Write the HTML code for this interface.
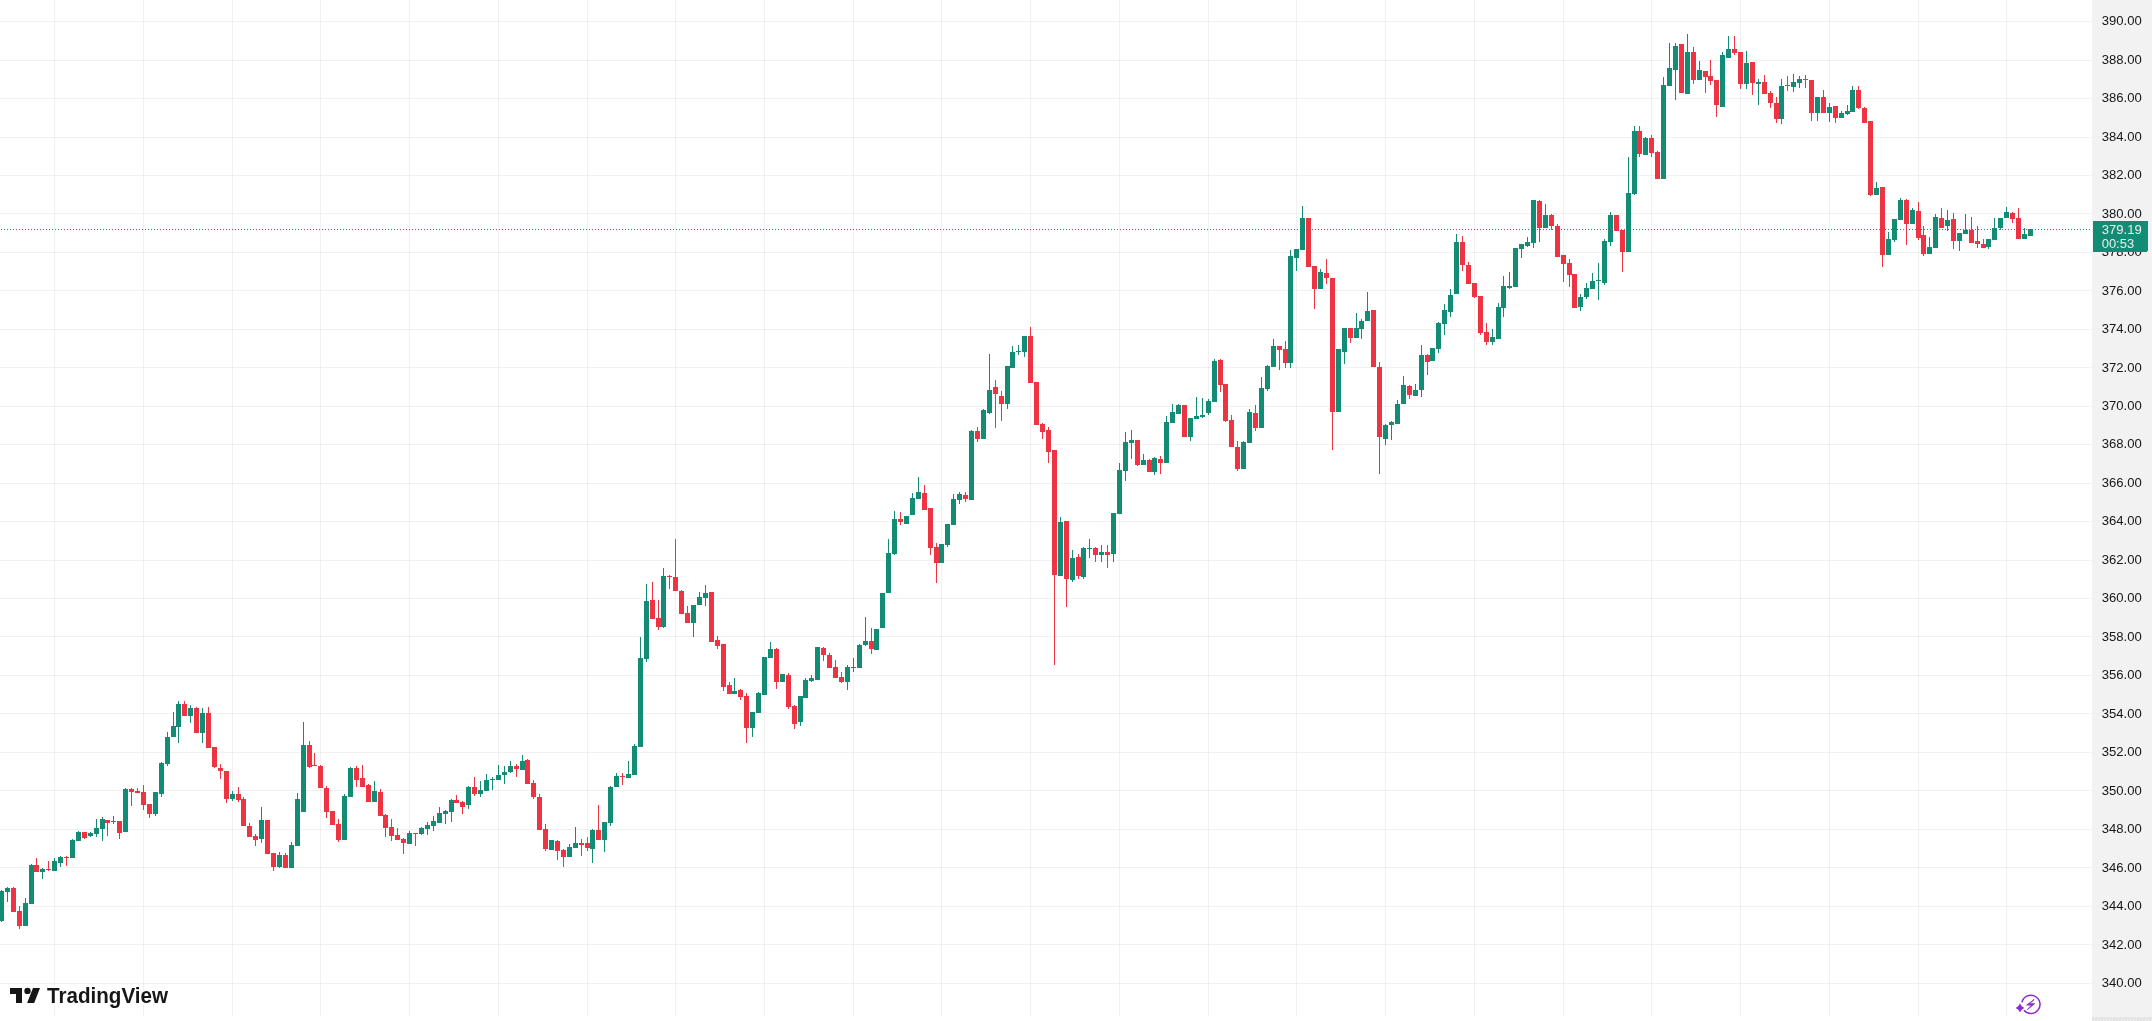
<!DOCTYPE html>
<html><head><meta charset="utf-8"><title>Chart</title>
<style>
html,body{margin:0;padding:0;background:#fff;}
body{width:2152px;height:1021px;overflow:hidden;position:relative;}
svg{position:absolute;left:0;top:0;}
.ov{will-change:transform;}
.ax text{font-family:"Liberation Sans",Arial,sans-serif;font-size:12.3px;fill:#161616;}
.lbl text{font-family:"Liberation Sans",Arial,sans-serif;font-size:12.3px;fill:#ededed;}
.logo text{font-family:"Liberation Sans",Arial,sans-serif;font-weight:bold;font-size:21.4px;fill:#161616;}
</style></head>
<body>
<svg width="2152" height="1021" viewBox="0 0 2152 1021" shape-rendering="crispEdges">
<rect x="0" y="0" width="2152" height="1021" fill="#ffffff"/>
<rect x="2092" y="0" width="60" height="1017" fill="#f2f2f2"/>
<defs><pattern id="hp" x="0" y="1017" width="3" height="3" patternUnits="userSpaceOnUse"><rect width="3" height="3" fill="#e0e0e0"/><rect x="0" y="0" width="1" height="1" fill="#f2f2f2"/><rect x="1" y="1" width="1" height="1" fill="#f2f2f2"/><rect x="2" y="2" width="1" height="1" fill="#f2f2f2"/></pattern></defs>
<rect x="2092" y="1017" width="60" height="4" fill="url(#hp)"/>
<g fill="rgba(42,46,57,0.066)"><rect x="54" y="0" width="1" height="1017"/><rect x="143" y="0" width="1" height="1017"/><rect x="232" y="0" width="1" height="1017"/><rect x="320" y="0" width="1" height="1017"/><rect x="409" y="0" width="1" height="1017"/><rect x="498" y="0" width="1" height="1017"/><rect x="587" y="0" width="1" height="1017"/><rect x="675" y="0" width="1" height="1017"/><rect x="764" y="0" width="1" height="1017"/><rect x="853" y="0" width="1" height="1017"/><rect x="941" y="0" width="1" height="1017"/><rect x="1030" y="0" width="1" height="1017"/><rect x="1119" y="0" width="1" height="1017"/><rect x="1208" y="0" width="1" height="1017"/><rect x="1296" y="0" width="1" height="1017"/><rect x="1385" y="0" width="1" height="1017"/><rect x="1474" y="0" width="1" height="1017"/><rect x="1563" y="0" width="1" height="1017"/><rect x="1651" y="0" width="1" height="1017"/><rect x="1740" y="0" width="1" height="1017"/><rect x="1829" y="0" width="1" height="1017"/><rect x="1918" y="0" width="1" height="1017"/><rect x="2006" y="0" width="1" height="1017"/><rect x="0" y="21" width="2092" height="1"/><rect x="0" y="60" width="2092" height="1"/><rect x="0" y="98" width="2092" height="1"/><rect x="0" y="137" width="2092" height="1"/><rect x="0" y="175" width="2092" height="1"/><rect x="0" y="213" width="2092" height="1"/><rect x="0" y="252" width="2092" height="1"/><rect x="0" y="290" width="2092" height="1"/><rect x="0" y="329" width="2092" height="1"/><rect x="0" y="367" width="2092" height="1"/><rect x="0" y="406" width="2092" height="1"/><rect x="0" y="444" width="2092" height="1"/><rect x="0" y="483" width="2092" height="1"/><rect x="0" y="521" width="2092" height="1"/><rect x="0" y="560" width="2092" height="1"/><rect x="0" y="598" width="2092" height="1"/><rect x="0" y="636" width="2092" height="1"/><rect x="0" y="675" width="2092" height="1"/><rect x="0" y="713" width="2092" height="1"/><rect x="0" y="752" width="2092" height="1"/><rect x="0" y="790" width="2092" height="1"/><rect x="0" y="829" width="2092" height="1"/><rect x="0" y="867" width="2092" height="1"/><rect x="0" y="906" width="2092" height="1"/><rect x="0" y="944" width="2092" height="1"/><rect x="0" y="983" width="2092" height="1"/></g>
<g fill="#138C75"><rect x="1" y="890" width="1" height="32"/><rect x="-1" y="891" width="5" height="30"/><rect x="7" y="887" width="1" height="15"/><rect x="5" y="888" width="5" height="4"/><rect x="25" y="898" width="1" height="28"/><rect x="23" y="903" width="5" height="23"/><rect x="31" y="864" width="1" height="40"/><rect x="29" y="865" width="5" height="39"/><rect x="42" y="868" width="1" height="11"/><rect x="40" y="869" width="5" height="3"/><rect x="54" y="858" width="1" height="13"/><rect x="52" y="861" width="5" height="10"/><rect x="60" y="856" width="1" height="11"/><rect x="58" y="857" width="5" height="6"/><rect x="72" y="839" width="1" height="19"/><rect x="70" y="840" width="5" height="18"/><rect x="78" y="831" width="1" height="10"/><rect x="76" y="832" width="5" height="9"/><rect x="90" y="832" width="1" height="5"/><rect x="88" y="833" width="5" height="3"/><rect x="96" y="819" width="1" height="18"/><rect x="94" y="828" width="5" height="6"/><rect x="102" y="817" width="1" height="24"/><rect x="100" y="819" width="5" height="10"/><rect x="113" y="816" width="1" height="8"/><rect x="111" y="821" width="5" height="1"/><rect x="125" y="788" width="1" height="44"/><rect x="123" y="789" width="5" height="43"/><rect x="155" y="792" width="1" height="24"/><rect x="153" y="792" width="5" height="22"/><rect x="161" y="762" width="1" height="35"/><rect x="159" y="763" width="5" height="31"/><rect x="167" y="732" width="1" height="34"/><rect x="165" y="737" width="5" height="27"/><rect x="173" y="712" width="1" height="25"/><rect x="171" y="726" width="5" height="11"/><rect x="178" y="701" width="1" height="42"/><rect x="176" y="704" width="5" height="23"/><rect x="190" y="705" width="1" height="18"/><rect x="188" y="708" width="5" height="8"/><rect x="202" y="708" width="1" height="35"/><rect x="200" y="713" width="5" height="20"/><rect x="232" y="791" width="1" height="10"/><rect x="230" y="794" width="5" height="5"/><rect x="261" y="807" width="1" height="36"/><rect x="259" y="820" width="5" height="19"/><rect x="279" y="852" width="1" height="16"/><rect x="277" y="855" width="5" height="12"/><rect x="291" y="842" width="1" height="26"/><rect x="289" y="845" width="5" height="23"/><rect x="297" y="793" width="1" height="53"/><rect x="295" y="799" width="5" height="47"/><rect x="303" y="722" width="1" height="90"/><rect x="301" y="745" width="5" height="67"/><rect x="344" y="794" width="1" height="46"/><rect x="342" y="796" width="5" height="44"/><rect x="350" y="767" width="1" height="30"/><rect x="348" y="768" width="5" height="29"/><rect x="374" y="781" width="1" height="21"/><rect x="372" y="791" width="5" height="11"/><rect x="409" y="831" width="1" height="13"/><rect x="407" y="833" width="5" height="11"/><rect x="421" y="827" width="1" height="8"/><rect x="419" y="828" width="5" height="6"/><rect x="427" y="822" width="1" height="13"/><rect x="425" y="825" width="5" height="4"/><rect x="433" y="816" width="1" height="15"/><rect x="431" y="821" width="5" height="5"/><rect x="439" y="807" width="1" height="16"/><rect x="437" y="813" width="5" height="10"/><rect x="445" y="810" width="1" height="14"/><rect x="443" y="811" width="5" height="3"/><rect x="451" y="799" width="1" height="23"/><rect x="449" y="800" width="5" height="12"/><rect x="468" y="786" width="1" height="23"/><rect x="466" y="787" width="5" height="18"/><rect x="480" y="781" width="1" height="16"/><rect x="478" y="790" width="5" height="4"/><rect x="486" y="774" width="1" height="17"/><rect x="484" y="780" width="5" height="11"/><rect x="492" y="777" width="1" height="13"/><rect x="490" y="779" width="5" height="1"/><rect x="498" y="765" width="1" height="15"/><rect x="496" y="775" width="5" height="5"/><rect x="504" y="766" width="1" height="18"/><rect x="502" y="772" width="5" height="3"/><rect x="510" y="761" width="1" height="12"/><rect x="508" y="766" width="5" height="6"/><rect x="522" y="755" width="1" height="15"/><rect x="520" y="761" width="5" height="9"/><rect x="551" y="840" width="1" height="10"/><rect x="549" y="840" width="5" height="10"/><rect x="569" y="844" width="1" height="13"/><rect x="567" y="847" width="5" height="10"/><rect x="575" y="827" width="1" height="21"/><rect x="573" y="843" width="5" height="5"/><rect x="592" y="829" width="1" height="34"/><rect x="590" y="830" width="5" height="19"/><rect x="604" y="822" width="1" height="30"/><rect x="602" y="822" width="5" height="18"/><rect x="610" y="786" width="1" height="40"/><rect x="608" y="787" width="5" height="36"/><rect x="616" y="773" width="1" height="14"/><rect x="614" y="776" width="5" height="11"/><rect x="628" y="761" width="1" height="17"/><rect x="626" y="774" width="5" height="4"/><rect x="634" y="744" width="1" height="31"/><rect x="632" y="746" width="5" height="29"/><rect x="640" y="637" width="1" height="110"/><rect x="638" y="658" width="5" height="89"/><rect x="646" y="584" width="1" height="78"/><rect x="644" y="601" width="5" height="58"/><rect x="663" y="568" width="1" height="60"/><rect x="661" y="576" width="5" height="51"/><rect x="693" y="605" width="1" height="32"/><rect x="691" y="605" width="5" height="18"/><rect x="699" y="592" width="1" height="13"/><rect x="697" y="597" width="5" height="8"/><rect x="705" y="585" width="1" height="21"/><rect x="703" y="593" width="5" height="5"/><rect x="734" y="678" width="1" height="16"/><rect x="732" y="691" width="5" height="3"/><rect x="752" y="712" width="1" height="25"/><rect x="750" y="712" width="5" height="16"/><rect x="758" y="692" width="1" height="21"/><rect x="756" y="693" width="5" height="20"/><rect x="764" y="657" width="1" height="38"/><rect x="762" y="657" width="5" height="38"/><rect x="770" y="642" width="1" height="16"/><rect x="768" y="649" width="5" height="9"/><rect x="782" y="674" width="1" height="8"/><rect x="780" y="674" width="5" height="8"/><rect x="800" y="696" width="1" height="30"/><rect x="798" y="696" width="5" height="26"/><rect x="805" y="678" width="1" height="20"/><rect x="803" y="680" width="5" height="18"/><rect x="811" y="675" width="1" height="7"/><rect x="809" y="678" width="5" height="3"/><rect x="817" y="647" width="1" height="33"/><rect x="815" y="647" width="5" height="33"/><rect x="847" y="665" width="1" height="25"/><rect x="845" y="667" width="5" height="15"/><rect x="853" y="658" width="1" height="14"/><rect x="851" y="667" width="5" height="1"/><rect x="859" y="644" width="1" height="24"/><rect x="857" y="645" width="5" height="23"/><rect x="865" y="617" width="1" height="29"/><rect x="863" y="641" width="5" height="4"/><rect x="876" y="629" width="1" height="21"/><rect x="874" y="629" width="5" height="21"/><rect x="882" y="593" width="1" height="35"/><rect x="880" y="593" width="5" height="35"/><rect x="888" y="539" width="1" height="54"/><rect x="886" y="553" width="5" height="40"/><rect x="894" y="511" width="1" height="44"/><rect x="892" y="519" width="5" height="35"/><rect x="906" y="516" width="1" height="8"/><rect x="904" y="516" width="5" height="8"/><rect x="912" y="493" width="1" height="22"/><rect x="910" y="498" width="5" height="17"/><rect x="918" y="477" width="1" height="22"/><rect x="916" y="492" width="5" height="7"/><rect x="941" y="544" width="1" height="19"/><rect x="939" y="544" width="5" height="19"/><rect x="947" y="524" width="1" height="23"/><rect x="945" y="524" width="5" height="21"/><rect x="953" y="494" width="1" height="31"/><rect x="951" y="499" width="5" height="26"/><rect x="959" y="492" width="1" height="12"/><rect x="957" y="494" width="5" height="6"/><rect x="971" y="430" width="1" height="70"/><rect x="969" y="431" width="5" height="69"/><rect x="983" y="409" width="1" height="30"/><rect x="981" y="410" width="5" height="29"/><rect x="989" y="354" width="1" height="60"/><rect x="987" y="390" width="5" height="23"/><rect x="1007" y="366" width="1" height="43"/><rect x="1005" y="366" width="5" height="38"/><rect x="1012" y="346" width="1" height="22"/><rect x="1010" y="352" width="5" height="16"/><rect x="1018" y="345" width="1" height="10"/><rect x="1016" y="351" width="5" height="1"/><rect x="1024" y="336" width="1" height="21"/><rect x="1022" y="336" width="5" height="16"/><rect x="1060" y="517" width="1" height="59"/><rect x="1058" y="522" width="5" height="54"/><rect x="1072" y="550" width="1" height="32"/><rect x="1070" y="558" width="5" height="22"/><rect x="1083" y="547" width="1" height="32"/><rect x="1081" y="548" width="5" height="29"/><rect x="1089" y="539" width="1" height="19"/><rect x="1087" y="548" width="5" height="1"/><rect x="1101" y="545" width="1" height="17"/><rect x="1099" y="552" width="5" height="3"/><rect x="1113" y="513" width="1" height="49"/><rect x="1111" y="513" width="5" height="41"/><rect x="1119" y="463" width="1" height="51"/><rect x="1117" y="470" width="5" height="44"/><rect x="1125" y="432" width="1" height="49"/><rect x="1123" y="442" width="5" height="29"/><rect x="1131" y="430" width="1" height="29"/><rect x="1129" y="440" width="5" height="3"/><rect x="1143" y="454" width="1" height="11"/><rect x="1141" y="460" width="5" height="5"/><rect x="1154" y="457" width="1" height="18"/><rect x="1152" y="458" width="5" height="14"/><rect x="1166" y="416" width="1" height="47"/><rect x="1164" y="422" width="5" height="41"/><rect x="1172" y="404" width="1" height="19"/><rect x="1170" y="412" width="5" height="11"/><rect x="1178" y="404" width="1" height="10"/><rect x="1176" y="405" width="5" height="9"/><rect x="1190" y="418" width="1" height="23"/><rect x="1188" y="418" width="5" height="19"/><rect x="1196" y="397" width="1" height="22"/><rect x="1194" y="416" width="5" height="3"/><rect x="1202" y="398" width="1" height="20"/><rect x="1200" y="415" width="5" height="2"/><rect x="1208" y="399" width="1" height="16"/><rect x="1206" y="401" width="5" height="12"/><rect x="1214" y="359" width="1" height="43"/><rect x="1212" y="361" width="5" height="41"/><rect x="1243" y="441" width="1" height="28"/><rect x="1241" y="442" width="5" height="27"/><rect x="1249" y="409" width="1" height="34"/><rect x="1247" y="412" width="5" height="31"/><rect x="1261" y="377" width="1" height="51"/><rect x="1259" y="388" width="5" height="40"/><rect x="1267" y="365" width="1" height="26"/><rect x="1265" y="366" width="5" height="23"/><rect x="1273" y="339" width="1" height="28"/><rect x="1271" y="346" width="5" height="21"/><rect x="1290" y="250" width="1" height="118"/><rect x="1288" y="256" width="5" height="107"/><rect x="1296" y="249" width="1" height="22"/><rect x="1294" y="249" width="5" height="9"/><rect x="1302" y="206" width="1" height="44"/><rect x="1300" y="218" width="5" height="32"/><rect x="1320" y="269" width="1" height="20"/><rect x="1318" y="272" width="5" height="17"/><rect x="1338" y="349" width="1" height="63"/><rect x="1336" y="349" width="5" height="63"/><rect x="1344" y="328" width="1" height="36"/><rect x="1342" y="328" width="5" height="24"/><rect x="1356" y="313" width="1" height="25"/><rect x="1354" y="328" width="5" height="10"/><rect x="1361" y="319" width="1" height="20"/><rect x="1359" y="321" width="5" height="8"/><rect x="1367" y="292" width="1" height="29"/><rect x="1365" y="311" width="5" height="10"/><rect x="1385" y="424" width="1" height="21"/><rect x="1383" y="425" width="5" height="14"/><rect x="1391" y="421" width="1" height="19"/><rect x="1389" y="422" width="5" height="3"/><rect x="1397" y="400" width="1" height="24"/><rect x="1395" y="404" width="5" height="20"/><rect x="1403" y="376" width="1" height="28"/><rect x="1401" y="385" width="5" height="19"/><rect x="1415" y="384" width="1" height="12"/><rect x="1413" y="390" width="5" height="6"/><rect x="1421" y="345" width="1" height="52"/><rect x="1419" y="355" width="5" height="35"/><rect x="1432" y="348" width="1" height="13"/><rect x="1430" y="348" width="5" height="13"/><rect x="1438" y="322" width="1" height="31"/><rect x="1436" y="323" width="5" height="26"/><rect x="1444" y="304" width="1" height="31"/><rect x="1442" y="310" width="5" height="14"/><rect x="1450" y="289" width="1" height="28"/><rect x="1448" y="295" width="5" height="17"/><rect x="1456" y="234" width="1" height="60"/><rect x="1454" y="242" width="5" height="52"/><rect x="1492" y="329" width="1" height="16"/><rect x="1490" y="337" width="5" height="5"/><rect x="1498" y="303" width="1" height="36"/><rect x="1496" y="307" width="5" height="32"/><rect x="1503" y="276" width="1" height="41"/><rect x="1501" y="286" width="5" height="22"/><rect x="1509" y="272" width="1" height="17"/><rect x="1507" y="286" width="5" height="2"/><rect x="1515" y="248" width="1" height="39"/><rect x="1513" y="248" width="5" height="39"/><rect x="1521" y="244" width="1" height="14"/><rect x="1519" y="244" width="5" height="5"/><rect x="1527" y="237" width="1" height="10"/><rect x="1525" y="242" width="5" height="4"/><rect x="1533" y="200" width="1" height="48"/><rect x="1531" y="200" width="5" height="43"/><rect x="1545" y="204" width="1" height="24"/><rect x="1543" y="215" width="5" height="13"/><rect x="1580" y="294" width="1" height="17"/><rect x="1578" y="297" width="5" height="10"/><rect x="1586" y="283" width="1" height="16"/><rect x="1584" y="288" width="5" height="9"/><rect x="1592" y="273" width="1" height="16"/><rect x="1590" y="281" width="5" height="8"/><rect x="1598" y="263" width="1" height="37"/><rect x="1596" y="280" width="5" height="1"/><rect x="1604" y="239" width="1" height="46"/><rect x="1602" y="241" width="5" height="42"/><rect x="1610" y="212" width="1" height="34"/><rect x="1608" y="215" width="5" height="27"/><rect x="1628" y="157" width="1" height="95"/><rect x="1626" y="193" width="5" height="59"/><rect x="1634" y="126" width="1" height="69"/><rect x="1632" y="131" width="5" height="63"/><rect x="1645" y="137" width="1" height="18"/><rect x="1643" y="138" width="5" height="17"/><rect x="1663" y="77" width="1" height="102"/><rect x="1661" y="85" width="5" height="94"/><rect x="1669" y="43" width="1" height="43"/><rect x="1667" y="68" width="5" height="18"/><rect x="1675" y="43" width="1" height="57"/><rect x="1673" y="46" width="5" height="24"/><rect x="1687" y="34" width="1" height="60"/><rect x="1685" y="52" width="5" height="42"/><rect x="1699" y="61" width="1" height="19"/><rect x="1697" y="70" width="5" height="10"/><rect x="1722" y="52" width="1" height="55"/><rect x="1720" y="55" width="5" height="52"/><rect x="1728" y="36" width="1" height="22"/><rect x="1726" y="49" width="5" height="9"/><rect x="1746" y="51" width="1" height="38"/><rect x="1744" y="63" width="5" height="21"/><rect x="1758" y="79" width="1" height="26"/><rect x="1756" y="82" width="5" height="2"/><rect x="1781" y="79" width="1" height="45"/><rect x="1779" y="86" width="5" height="33"/><rect x="1793" y="74" width="1" height="18"/><rect x="1791" y="82" width="5" height="5"/><rect x="1799" y="76" width="1" height="12"/><rect x="1797" y="79" width="5" height="4"/><rect x="1817" y="97" width="1" height="24"/><rect x="1815" y="97" width="5" height="16"/><rect x="1829" y="103" width="1" height="19"/><rect x="1827" y="107" width="5" height="6"/><rect x="1841" y="111" width="1" height="7"/><rect x="1839" y="113" width="5" height="5"/><rect x="1847" y="105" width="1" height="10"/><rect x="1845" y="111" width="5" height="3"/><rect x="1852" y="86" width="1" height="26"/><rect x="1850" y="90" width="5" height="22"/><rect x="1876" y="182" width="1" height="13"/><rect x="1874" y="188" width="5" height="7"/><rect x="1888" y="232" width="1" height="23"/><rect x="1886" y="239" width="5" height="16"/><rect x="1894" y="219" width="1" height="23"/><rect x="1892" y="219" width="5" height="21"/><rect x="1900" y="198" width="1" height="22"/><rect x="1898" y="200" width="5" height="20"/><rect x="1912" y="208" width="1" height="16"/><rect x="1910" y="210" width="5" height="14"/><rect x="1929" y="237" width="1" height="17"/><rect x="1927" y="247" width="5" height="7"/><rect x="1935" y="214" width="1" height="34"/><rect x="1933" y="217" width="5" height="31"/><rect x="1947" y="210" width="1" height="21"/><rect x="1945" y="220" width="5" height="6"/><rect x="1959" y="233" width="1" height="18"/><rect x="1957" y="233" width="5" height="8"/><rect x="1965" y="214" width="1" height="20"/><rect x="1963" y="230" width="5" height="4"/><rect x="1988" y="239" width="1" height="10"/><rect x="1986" y="239" width="5" height="8"/><rect x="1994" y="218" width="1" height="22"/><rect x="1992" y="228" width="5" height="12"/><rect x="2000" y="218" width="1" height="12"/><rect x="1998" y="218" width="5" height="10"/><rect x="2006" y="207" width="1" height="11"/><rect x="2004" y="212" width="5" height="6"/><rect x="2024" y="228" width="1" height="11"/><rect x="2022" y="234" width="5" height="5"/><rect x="2030" y="229" width="1" height="7"/><rect x="2028" y="229" width="5" height="7"/></g>
<g fill="#EE3442"><rect x="13" y="887" width="1" height="25"/><rect x="11" y="888" width="5" height="24"/><rect x="19" y="906" width="1" height="23"/><rect x="17" y="911" width="5" height="15"/><rect x="36" y="858" width="1" height="14"/><rect x="34" y="865" width="5" height="7"/><rect x="48" y="861" width="1" height="10"/><rect x="46" y="869" width="5" height="1"/><rect x="66" y="856" width="1" height="10"/><rect x="64" y="857" width="5" height="1"/><rect x="84" y="832" width="1" height="7"/><rect x="82" y="832" width="5" height="6"/><rect x="107" y="820" width="1" height="16"/><rect x="105" y="820" width="5" height="3"/><rect x="119" y="821" width="1" height="18"/><rect x="117" y="821" width="5" height="12"/><rect x="131" y="788" width="1" height="18"/><rect x="129" y="789" width="5" height="3"/><rect x="137" y="788" width="1" height="5"/><rect x="135" y="791" width="5" height="2"/><rect x="143" y="785" width="1" height="25"/><rect x="141" y="792" width="5" height="13"/><rect x="149" y="804" width="1" height="14"/><rect x="147" y="804" width="5" height="10"/><rect x="184" y="701" width="1" height="15"/><rect x="182" y="704" width="5" height="12"/><rect x="196" y="707" width="1" height="26"/><rect x="194" y="708" width="5" height="25"/><rect x="208" y="707" width="1" height="41"/><rect x="206" y="713" width="5" height="35"/><rect x="214" y="747" width="1" height="21"/><rect x="212" y="747" width="5" height="20"/><rect x="220" y="764" width="1" height="15"/><rect x="218" y="768" width="5" height="3"/><rect x="226" y="771" width="1" height="32"/><rect x="224" y="771" width="5" height="28"/><rect x="238" y="787" width="1" height="15"/><rect x="236" y="794" width="5" height="6"/><rect x="243" y="797" width="1" height="29"/><rect x="241" y="799" width="5" height="27"/><rect x="249" y="823" width="1" height="14"/><rect x="247" y="826" width="5" height="11"/><rect x="255" y="834" width="1" height="12"/><rect x="253" y="836" width="5" height="4"/><rect x="267" y="820" width="1" height="34"/><rect x="265" y="820" width="5" height="34"/><rect x="273" y="853" width="1" height="18"/><rect x="271" y="853" width="5" height="14"/><rect x="285" y="853" width="1" height="15"/><rect x="283" y="855" width="5" height="13"/><rect x="309" y="741" width="1" height="27"/><rect x="307" y="745" width="5" height="22"/><rect x="314" y="753" width="1" height="13"/><rect x="312" y="765" width="5" height="1"/><rect x="320" y="765" width="1" height="23"/><rect x="318" y="766" width="5" height="22"/><rect x="326" y="786" width="1" height="32"/><rect x="324" y="788" width="5" height="24"/><rect x="332" y="811" width="1" height="14"/><rect x="330" y="811" width="5" height="14"/><rect x="338" y="819" width="1" height="23"/><rect x="336" y="824" width="5" height="16"/><rect x="356" y="766" width="1" height="21"/><rect x="354" y="768" width="5" height="12"/><rect x="362" y="765" width="1" height="22"/><rect x="360" y="778" width="5" height="9"/><rect x="368" y="784" width="1" height="18"/><rect x="366" y="785" width="5" height="17"/><rect x="380" y="789" width="1" height="27"/><rect x="378" y="792" width="5" height="24"/><rect x="385" y="814" width="1" height="23"/><rect x="383" y="815" width="5" height="13"/><rect x="391" y="819" width="1" height="22"/><rect x="389" y="827" width="5" height="9"/><rect x="397" y="828" width="1" height="12"/><rect x="395" y="835" width="5" height="5"/><rect x="403" y="838" width="1" height="16"/><rect x="401" y="839" width="5" height="4"/><rect x="415" y="833" width="1" height="13"/><rect x="413" y="833" width="5" height="1"/><rect x="456" y="795" width="1" height="8"/><rect x="454" y="800" width="5" height="3"/><rect x="462" y="801" width="1" height="13"/><rect x="460" y="802" width="5" height="5"/><rect x="474" y="777" width="1" height="19"/><rect x="472" y="787" width="5" height="7"/><rect x="516" y="764" width="1" height="13"/><rect x="514" y="766" width="5" height="3"/><rect x="527" y="759" width="1" height="25"/><rect x="525" y="760" width="5" height="24"/><rect x="533" y="780" width="1" height="19"/><rect x="531" y="783" width="5" height="14"/><rect x="539" y="794" width="1" height="36"/><rect x="537" y="797" width="5" height="33"/><rect x="545" y="824" width="1" height="27"/><rect x="543" y="829" width="5" height="20"/><rect x="557" y="840" width="1" height="20"/><rect x="555" y="841" width="5" height="10"/><rect x="563" y="849" width="1" height="18"/><rect x="561" y="850" width="5" height="7"/><rect x="581" y="839" width="1" height="17"/><rect x="579" y="843" width="5" height="2"/><rect x="587" y="837" width="1" height="14"/><rect x="585" y="843" width="5" height="5"/><rect x="598" y="805" width="1" height="35"/><rect x="596" y="830" width="5" height="10"/><rect x="622" y="773" width="1" height="12"/><rect x="620" y="776" width="5" height="1"/><rect x="652" y="582" width="1" height="37"/><rect x="650" y="600" width="5" height="19"/><rect x="658" y="600" width="1" height="30"/><rect x="656" y="618" width="5" height="9"/><rect x="669" y="575" width="1" height="14"/><rect x="667" y="576" width="5" height="1"/><rect x="675" y="539" width="1" height="52"/><rect x="673" y="577" width="5" height="14"/><rect x="681" y="590" width="1" height="24"/><rect x="679" y="591" width="5" height="23"/><rect x="687" y="606" width="1" height="17"/><rect x="685" y="613" width="5" height="10"/><rect x="711" y="592" width="1" height="50"/><rect x="709" y="592" width="5" height="50"/><rect x="717" y="636" width="1" height="13"/><rect x="715" y="640" width="5" height="6"/><rect x="723" y="644" width="1" height="47"/><rect x="721" y="644" width="5" height="43"/><rect x="729" y="682" width="1" height="12"/><rect x="727" y="685" width="5" height="9"/><rect x="740" y="689" width="1" height="11"/><rect x="738" y="690" width="5" height="7"/><rect x="746" y="693" width="1" height="50"/><rect x="744" y="696" width="5" height="32"/><rect x="776" y="648" width="1" height="41"/><rect x="774" y="649" width="5" height="33"/><rect x="788" y="673" width="1" height="36"/><rect x="786" y="675" width="5" height="32"/><rect x="794" y="705" width="1" height="24"/><rect x="792" y="706" width="5" height="18"/><rect x="823" y="647" width="1" height="14"/><rect x="821" y="648" width="5" height="7"/><rect x="829" y="653" width="1" height="15"/><rect x="827" y="655" width="5" height="13"/><rect x="835" y="660" width="1" height="18"/><rect x="833" y="667" width="5" height="11"/><rect x="841" y="672" width="1" height="11"/><rect x="839" y="677" width="5" height="5"/><rect x="871" y="628" width="1" height="26"/><rect x="869" y="641" width="5" height="8"/><rect x="900" y="512" width="1" height="13"/><rect x="898" y="519" width="5" height="3"/><rect x="924" y="485" width="1" height="25"/><rect x="922" y="493" width="5" height="17"/><rect x="930" y="508" width="1" height="47"/><rect x="928" y="508" width="5" height="40"/><rect x="936" y="543" width="1" height="40"/><rect x="934" y="547" width="5" height="16"/><rect x="965" y="492" width="1" height="10"/><rect x="963" y="495" width="5" height="4"/><rect x="977" y="427" width="1" height="15"/><rect x="975" y="431" width="5" height="8"/><rect x="995" y="380" width="1" height="48"/><rect x="993" y="387" width="5" height="7"/><rect x="1001" y="391" width="1" height="30"/><rect x="999" y="396" width="5" height="8"/><rect x="1030" y="327" width="1" height="56"/><rect x="1028" y="336" width="5" height="47"/><rect x="1036" y="382" width="1" height="43"/><rect x="1034" y="382" width="5" height="43"/><rect x="1042" y="423" width="1" height="16"/><rect x="1040" y="424" width="5" height="8"/><rect x="1048" y="427" width="1" height="36"/><rect x="1046" y="430" width="5" height="22"/><rect x="1054" y="450" width="1" height="215"/><rect x="1052" y="450" width="5" height="125"/><rect x="1066" y="521" width="1" height="86"/><rect x="1064" y="521" width="5" height="58"/><rect x="1078" y="554" width="1" height="25"/><rect x="1076" y="557" width="5" height="19"/><rect x="1095" y="547" width="1" height="15"/><rect x="1093" y="548" width="5" height="7"/><rect x="1107" y="545" width="1" height="23"/><rect x="1105" y="552" width="5" height="3"/><rect x="1137" y="440" width="1" height="26"/><rect x="1135" y="440" width="5" height="25"/><rect x="1149" y="459" width="1" height="13"/><rect x="1147" y="460" width="5" height="12"/><rect x="1160" y="456" width="1" height="18"/><rect x="1158" y="459" width="5" height="4"/><rect x="1184" y="405" width="1" height="32"/><rect x="1182" y="405" width="5" height="32"/><rect x="1220" y="359" width="1" height="33"/><rect x="1218" y="360" width="5" height="25"/><rect x="1225" y="384" width="1" height="38"/><rect x="1223" y="384" width="5" height="37"/><rect x="1231" y="415" width="1" height="32"/><rect x="1229" y="420" width="5" height="27"/><rect x="1237" y="441" width="1" height="30"/><rect x="1235" y="447" width="5" height="22"/><rect x="1255" y="405" width="1" height="26"/><rect x="1253" y="413" width="5" height="15"/><rect x="1279" y="346" width="1" height="24"/><rect x="1277" y="346" width="5" height="4"/><rect x="1285" y="341" width="1" height="27"/><rect x="1283" y="349" width="5" height="14"/><rect x="1308" y="218" width="1" height="49"/><rect x="1306" y="218" width="5" height="49"/><rect x="1314" y="266" width="1" height="43"/><rect x="1312" y="266" width="5" height="23"/><rect x="1326" y="259" width="1" height="25"/><rect x="1324" y="273" width="5" height="5"/><rect x="1332" y="278" width="1" height="172"/><rect x="1330" y="278" width="5" height="134"/><rect x="1350" y="328" width="1" height="15"/><rect x="1348" y="328" width="5" height="10"/><rect x="1373" y="310" width="1" height="57"/><rect x="1371" y="310" width="5" height="57"/><rect x="1379" y="362" width="1" height="112"/><rect x="1377" y="367" width="5" height="70"/><rect x="1409" y="385" width="1" height="14"/><rect x="1407" y="386" width="5" height="9"/><rect x="1427" y="354" width="1" height="21"/><rect x="1425" y="355" width="5" height="7"/><rect x="1462" y="236" width="1" height="35"/><rect x="1460" y="242" width="5" height="23"/><rect x="1468" y="262" width="1" height="22"/><rect x="1466" y="265" width="5" height="19"/><rect x="1474" y="283" width="1" height="15"/><rect x="1472" y="283" width="5" height="14"/><rect x="1480" y="296" width="1" height="39"/><rect x="1478" y="296" width="5" height="37"/><rect x="1486" y="323" width="1" height="22"/><rect x="1484" y="332" width="5" height="10"/><rect x="1539" y="200" width="1" height="42"/><rect x="1537" y="201" width="5" height="27"/><rect x="1551" y="214" width="1" height="16"/><rect x="1549" y="215" width="5" height="11"/><rect x="1557" y="224" width="1" height="33"/><rect x="1555" y="226" width="5" height="31"/><rect x="1563" y="255" width="1" height="27"/><rect x="1561" y="255" width="5" height="9"/><rect x="1569" y="259" width="1" height="28"/><rect x="1567" y="263" width="5" height="12"/><rect x="1574" y="274" width="1" height="34"/><rect x="1572" y="274" width="5" height="34"/><rect x="1616" y="215" width="1" height="16"/><rect x="1614" y="215" width="5" height="16"/><rect x="1622" y="230" width="1" height="42"/><rect x="1620" y="230" width="5" height="22"/><rect x="1639" y="126" width="1" height="31"/><rect x="1637" y="131" width="5" height="23"/><rect x="1651" y="135" width="1" height="22"/><rect x="1649" y="138" width="5" height="15"/><rect x="1657" y="151" width="1" height="28"/><rect x="1655" y="152" width="5" height="27"/><rect x="1681" y="44" width="1" height="49"/><rect x="1679" y="44" width="5" height="49"/><rect x="1693" y="47" width="1" height="37"/><rect x="1691" y="52" width="5" height="28"/><rect x="1705" y="71" width="1" height="22"/><rect x="1703" y="71" width="5" height="6"/><rect x="1710" y="60" width="1" height="25"/><rect x="1708" y="76" width="5" height="5"/><rect x="1716" y="80" width="1" height="37"/><rect x="1714" y="80" width="5" height="25"/><rect x="1734" y="36" width="1" height="19"/><rect x="1732" y="49" width="5" height="4"/><rect x="1740" y="52" width="1" height="37"/><rect x="1738" y="52" width="5" height="32"/><rect x="1752" y="62" width="1" height="33"/><rect x="1750" y="62" width="5" height="21"/><rect x="1764" y="75" width="1" height="19"/><rect x="1762" y="82" width="5" height="12"/><rect x="1770" y="91" width="1" height="17"/><rect x="1768" y="93" width="5" height="10"/><rect x="1776" y="97" width="1" height="26"/><rect x="1774" y="103" width="5" height="16"/><rect x="1787" y="76" width="1" height="15"/><rect x="1785" y="85" width="5" height="1"/><rect x="1805" y="75" width="1" height="13"/><rect x="1803" y="79" width="5" height="1"/><rect x="1811" y="80" width="1" height="41"/><rect x="1809" y="80" width="5" height="33"/><rect x="1823" y="90" width="1" height="23"/><rect x="1821" y="97" width="5" height="16"/><rect x="1835" y="106" width="1" height="17"/><rect x="1833" y="106" width="5" height="12"/><rect x="1858" y="86" width="1" height="23"/><rect x="1856" y="90" width="5" height="18"/><rect x="1864" y="107" width="1" height="16"/><rect x="1862" y="108" width="5" height="15"/><rect x="1870" y="121" width="1" height="75"/><rect x="1868" y="121" width="5" height="74"/><rect x="1882" y="187" width="1" height="80"/><rect x="1880" y="187" width="5" height="68"/><rect x="1906" y="199" width="1" height="46"/><rect x="1904" y="200" width="5" height="24"/><rect x="1918" y="202" width="1" height="38"/><rect x="1916" y="211" width="5" height="27"/><rect x="1923" y="226" width="1" height="30"/><rect x="1921" y="235" width="5" height="19"/><rect x="1941" y="208" width="1" height="20"/><rect x="1939" y="218" width="5" height="10"/><rect x="1953" y="213" width="1" height="36"/><rect x="1951" y="219" width="5" height="22"/><rect x="1971" y="217" width="1" height="26"/><rect x="1969" y="230" width="5" height="13"/><rect x="1977" y="226" width="1" height="22"/><rect x="1975" y="241" width="5" height="3"/><rect x="1983" y="239" width="1" height="9"/><rect x="1981" y="244" width="5" height="4"/><rect x="2012" y="212" width="1" height="11"/><rect x="2010" y="213" width="5" height="6"/><rect x="2018" y="208" width="1" height="31"/><rect x="2016" y="218" width="5" height="21"/></g>
<line x1="1" y1="229.5" x2="2092" y2="229.5" stroke="#138C75" stroke-width="1" stroke-dasharray="1 2"/>
</svg>
<svg class="ov" width="2152" height="1021" viewBox="0 0 2152 1021" shape-rendering="crispEdges">
<g class="ax"><text x="2101.7" y="25.30" textLength="40" lengthAdjust="spacingAndGlyphs">390.00</text><text x="2101.7" y="63.77" textLength="40" lengthAdjust="spacingAndGlyphs">388.00</text><text x="2101.7" y="102.24" textLength="40" lengthAdjust="spacingAndGlyphs">386.00</text><text x="2101.7" y="140.71" textLength="40" lengthAdjust="spacingAndGlyphs">384.00</text><text x="2101.7" y="179.18" textLength="40" lengthAdjust="spacingAndGlyphs">382.00</text><text x="2101.7" y="217.65" textLength="40" lengthAdjust="spacingAndGlyphs">380.00</text><text x="2101.7" y="256.12" textLength="40" lengthAdjust="spacingAndGlyphs">378.00</text><text x="2101.7" y="294.59" textLength="40" lengthAdjust="spacingAndGlyphs">376.00</text><text x="2101.7" y="333.06" textLength="40" lengthAdjust="spacingAndGlyphs">374.00</text><text x="2101.7" y="371.53" textLength="40" lengthAdjust="spacingAndGlyphs">372.00</text><text x="2101.7" y="410.00" textLength="40" lengthAdjust="spacingAndGlyphs">370.00</text><text x="2101.7" y="448.47" textLength="40" lengthAdjust="spacingAndGlyphs">368.00</text><text x="2101.7" y="486.94" textLength="40" lengthAdjust="spacingAndGlyphs">366.00</text><text x="2101.7" y="525.41" textLength="40" lengthAdjust="spacingAndGlyphs">364.00</text><text x="2101.7" y="563.88" textLength="40" lengthAdjust="spacingAndGlyphs">362.00</text><text x="2101.7" y="602.35" textLength="40" lengthAdjust="spacingAndGlyphs">360.00</text><text x="2101.7" y="640.82" textLength="40" lengthAdjust="spacingAndGlyphs">358.00</text><text x="2101.7" y="679.29" textLength="40" lengthAdjust="spacingAndGlyphs">356.00</text><text x="2101.7" y="717.76" textLength="40" lengthAdjust="spacingAndGlyphs">354.00</text><text x="2101.7" y="756.23" textLength="40" lengthAdjust="spacingAndGlyphs">352.00</text><text x="2101.7" y="794.70" textLength="40" lengthAdjust="spacingAndGlyphs">350.00</text><text x="2101.7" y="833.17" textLength="40" lengthAdjust="spacingAndGlyphs">348.00</text><text x="2101.7" y="871.64" textLength="40" lengthAdjust="spacingAndGlyphs">346.00</text><text x="2101.7" y="910.11" textLength="40" lengthAdjust="spacingAndGlyphs">344.00</text><text x="2101.7" y="948.58" textLength="40" lengthAdjust="spacingAndGlyphs">342.00</text><text x="2101.7" y="987.05" textLength="40" lengthAdjust="spacingAndGlyphs">340.00</text></g>
<g class="lbl">
<path d="M2093 221 H2146 Q2148 221 2148 223 V250 Q2148 252 2146 252 H2093 Z" fill="#138C75"/>
<text x="2101.7" y="233.9" textLength="40" lengthAdjust="spacingAndGlyphs">379.19</text>
<text x="2101.7" y="247.6" textLength="32.4" lengthAdjust="spacingAndGlyphs">00:53</text>
</g>
<g class="logo" shape-rendering="geometricPrecision">
<path d="M10 988 H22 V1003 H16 V994 H10 Z" fill="#161616"/>
<circle cx="27.5" cy="990.9" r="3.2" fill="#161616"/>
<path d="M33 988 H40 L34.2 1003 H27.1 Z" fill="#161616"/>
<text x="47" y="1003" textLength="121" lengthAdjust="spacingAndGlyphs" stroke="#ffffff" stroke-width="4" stroke-linejoin="round" paint-order="stroke fill">TradingView</text>
</g>
<g shape-rendering="geometricPrecision" fill="none" stroke="#8E2BC9" stroke-width="1.5">
<path d="M2021.92 1002.38 A9.15 9.15 0 1 1 2023.9 1010.31"/>
<path d="M2034.2 999.5 L2026.6 1005.1 L2031.6 1005.1 L2027.4 1009.6 L2034.6 1003.7 L2029.4 1003.7 Z" fill="#8E2BC9" stroke-width="0.85" stroke-linejoin="round"/>
</g>
<path d="M2020 1003.6 Q2021.2 1006.7 2024.3 1007.9 Q2021.2 1009.1 2020 1012.2 Q2018.8 1009.1 2015.7 1007.9 Q2018.8 1006.7 2020 1003.6 Z" fill="#8E2BC9" shape-rendering="geometricPrecision"/>
</svg>
</body></html>
